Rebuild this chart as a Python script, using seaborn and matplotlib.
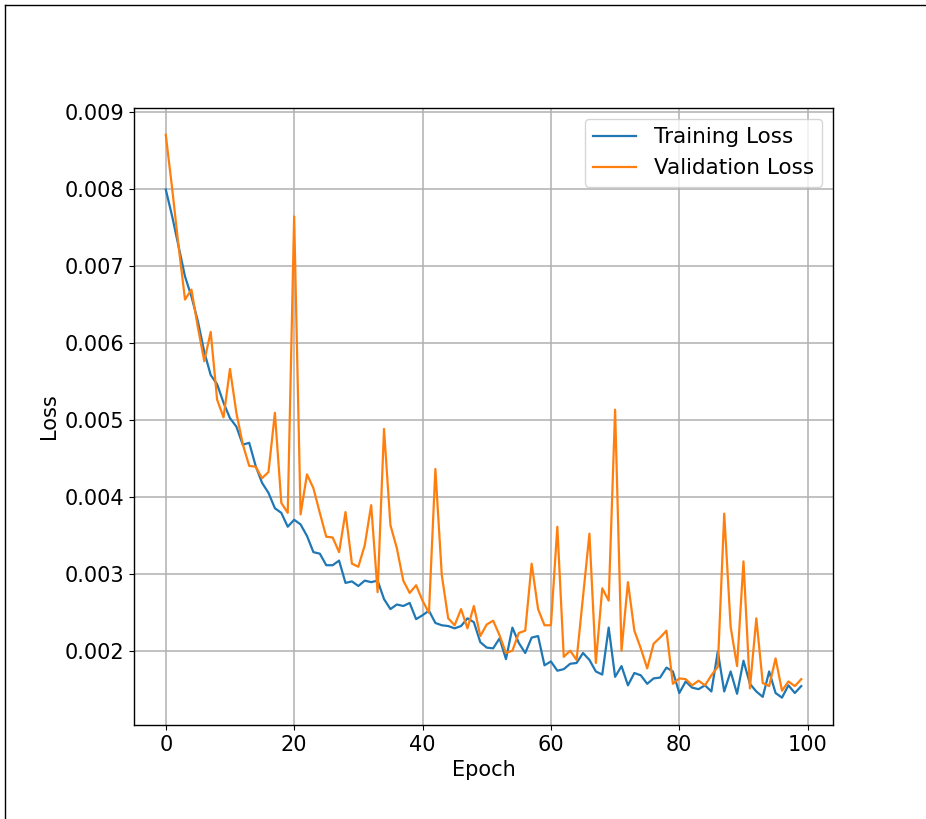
import matplotlib
matplotlib.use("Agg")
import matplotlib.pyplot as plt
from matplotlib.lines import Line2D
import numpy as np
import pandas as pd
import seaborn as sns

epochs = list(range(100))

training_loss = [
    0.00799, 0.00764, 0.00725, 0.00686, 0.00660, 0.00628, 0.00588, 0.00558, 0.00546, 0.00522,
    0.00502, 0.00491, 0.004675, 0.00470, 0.00440, 0.00418, 0.00405, 0.00385, 0.00379, 0.00361,
    0.00370, 0.00364, 0.00349, 0.00328, 0.00326, 0.00311, 0.00311, 0.00317, 0.00288, 0.00290,
    0.00284, 0.00291, 0.00289, 0.00291, 0.00267, 0.00254, 0.00260, 0.00258, 0.00262, 0.00241,
    0.00246, 0.00252, 0.00236, 0.00233, 0.00232, 0.00229, 0.00232, 0.00242, 0.00237, 0.00211,
    0.00204, 0.00203, 0.00216, 0.00189, 0.00230, 0.00210, 0.00197, 0.00217, 0.00219, 0.00181,
    0.00186, 0.00174, 0.00176, 0.00183, 0.00184, 0.00197, 0.00188, 0.00173, 0.00169, 0.00230,
    0.00166, 0.00180, 0.00155, 0.00171, 0.00168, 0.00157, 0.00164, 0.00165, 0.00178, 0.00173,
    0.00145, 0.00160, 0.00152, 0.00150, 0.00155, 0.00147, 0.00199, 0.00147, 0.00173, 0.00144,
    0.00187, 0.00157, 0.00147, 0.00140, 0.00173, 0.00145, 0.00139, 0.00155, 0.00145, 0.00154,
]

validation_loss = [
    0.00870, 0.00800, 0.00725, 0.00656, 0.00669, 0.00620, 0.00576, 0.00614, 0.00526, 0.00503,
    0.00566, 0.00509, 0.00468, 0.00440, 0.00439, 0.00424, 0.00432, 0.00509, 0.00392, 0.00379,
    0.00764, 0.00377, 0.00429, 0.00411, 0.00379, 0.00348, 0.00347, 0.00328, 0.00380, 0.00313,
    0.00309, 0.00337, 0.00389, 0.00276, 0.00488, 0.00363, 0.00333, 0.00291, 0.00275, 0.00285,
    0.00265, 0.00249, 0.00436, 0.00298, 0.00242, 0.00233, 0.00254, 0.00229, 0.00258, 0.00219,
    0.00234, 0.00239, 0.00220, 0.00197, 0.00200, 0.00223, 0.00226, 0.00313, 0.00254, 0.00233,
    0.00233, 0.00361, 0.00192, 0.00200, 0.00188, 0.00270, 0.00352, 0.00184, 0.00281, 0.00265,
    0.00513, 0.00200, 0.00289, 0.00226, 0.00203, 0.00177, 0.00209, 0.00217, 0.00226, 0.00157,
    0.00164, 0.00163, 0.00155, 0.00161, 0.00155, 0.00168, 0.00179, 0.00378, 0.00231, 0.00180,
    0.00316, 0.00151, 0.00242, 0.00158, 0.00154, 0.00190, 0.00148, 0.00160, 0.00154, 0.00163,
]

y_ticks = [0.002, 0.003, 0.004, 0.005, 0.006, 0.007, 0.008, 0.009]
x_ticks = [0, 20, 40, 60, 80, 100]

df = pd.DataFrame({
    "Epoch": epochs * 2,
    "Loss": training_loss + validation_loss,
    "Series": ["Training Loss"] * len(epochs) + ["Validation Loss"] * len(epochs),
})

plt.rcParams["font.family"] = ["DejaVu Sans"]
plt.rcParams["font.size"] = 15

fig = plt.figure(figsize=(9.26, 8.19), dpi=100)
ax = fig.add_axes([0.1447, 0.1148, 0.7549, 0.7533])

sns.lineplot(
    data=df, x="Epoch", y="Loss", hue="Series",
    palette=["#1f77b4", "#ff7f0e"], linewidth=1.6, ax=ax,
)

ax.set_xlim(-4.95, 103.95)
ax.set_ylim(0.001035, 0.009048)
ax.set_xticks(x_ticks)
ax.set_yticks(y_ticks)
ax.set_yticklabels([f"{t:.3f}" for t in y_ticks])
ax.set_xlabel("Epoch", fontsize=15)
ax.set_ylabel("Loss", fontsize=15)
ax.tick_params(labelsize=15)
ax.grid(True, color="#b0b0b0", linewidth=1.1)
ax.set_axisbelow(True)
for s in ax.spines.values():
    s.set_color("black")
    s.set_linewidth(1.0)

leg = ax.legend(title=None, loc="upper right", fontsize=15.5, framealpha=0.8)

# thin frame along the top and left edges of the canvas
fig.add_artist(Line2D([4.5 / 926, 1.0], [1 - 4.5 / 819, 1 - 4.5 / 819],
                      transform=fig.transFigure, color="black", linewidth=1.0))
fig.add_artist(Line2D([4.5 / 926, 4.5 / 926], [0.0, 1 - 4.5 / 819],
                      transform=fig.transFigure, color="black", linewidth=1.0))

fig.savefig("out.png", dpi=100)
